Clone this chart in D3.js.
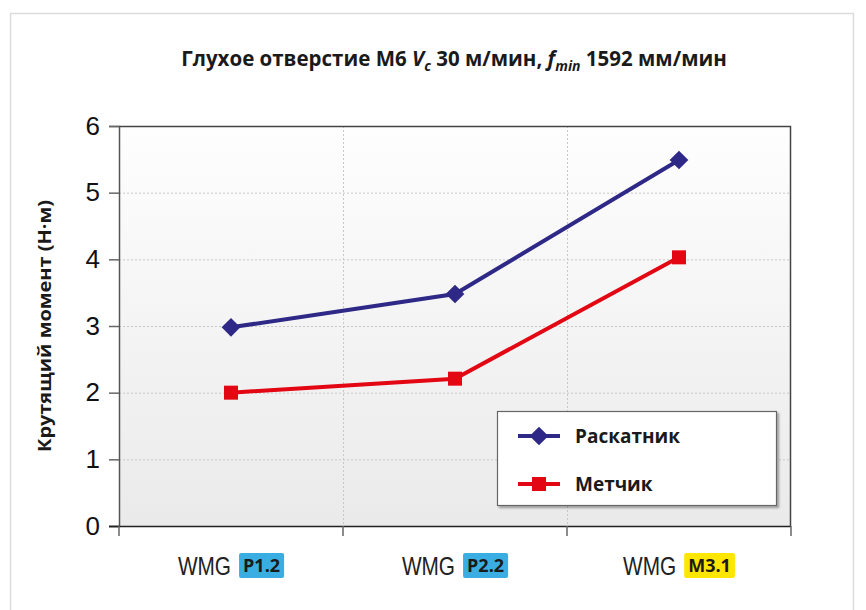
<!DOCTYPE html>
<html>
<head>
<meta charset="utf-8">
<script src="https://cdn.jsdelivr.net/npm/d3@7"></script>
<style>
  html, body { margin: 0; padding: 0; background: #fff; }
  svg { display: block; }
</style>
</head>
<body>
<svg id="chart" width="866" height="610"></svg>
<script>
// Torque per tool grade, blind hole M6
const categories = ["P1.2", "P2.2", "M3.1"];
const categoryPrefix = "WMG";
const badgeColors = ["#3aaee2", "#3aaee2", "#ffe600"];
const seriesNames = ["Раскатник", "Метчик"];
const rolling = [2.98, 3.48, 5.49];   // Раскатник
const tapping = [2.00, 2.21, 4.03];   // Метчик
const yTicks = [0, 1, 2, 3, 4, 5, 6];
const yLabel = "Крутящий момент (Н·м)";

const svg = d3.select("#chart");
const margin = { left: 119, top: 126, right: 866 - 791, bottom: 610 - 526 };
const W = 866 - margin.left - margin.right;
const H = 610 - margin.top - margin.bottom;

// outer frame
svg.append("path")
  .attr("d", "M10.5,620 V13.5 H853.5 V620")
  .attr("fill", "none").attr("stroke", "#dcdcdc").attr("stroke-width", 1.5);

const defs = svg.append("defs");
const grad = defs.append("linearGradient").attr("id", "bg").attr("x1", 0).attr("y1", 0).attr("x2", 0).attr("y2", 1);
grad.append("stop").attr("offset", "0%").attr("stop-color", "#fefefe");
grad.append("stop").attr("offset", "100%").attr("stop-color", "#eaeaea");

const shadow = defs.append("filter").attr("id", "shadow").attr("x", "-5%").attr("y", "-5%").attr("width", "115%").attr("height", "120%");
shadow.append("feDropShadow").attr("dx", 2).attr("dy", 2).attr("stdDeviation", 1.2).attr("flood-color", "#000").attr("flood-opacity", 0.35);

const g = svg.append("g").attr("transform", `translate(${margin.left},${margin.top})`);

const x = d3.scaleBand().domain(categories).range([0, W]).padding(0);
const y = d3.scaleLinear().domain([0, 6]).range([H, 0]);

g.append("rect").attr("width", W).attr("height", H).attr("fill", "url(#bg)");

// gridlines
g.append("g").selectAll("line").data(yTicks.filter(t => t > 0 && t < 6)).join("line")
  .attr("x1", 0).attr("x2", W).attr("y1", d => y(d) + 0.5).attr("y2", d => y(d) + 0.5)
  .attr("stroke", "#c8c8c8").attr("stroke-dasharray", "2,2");
g.append("g").selectAll("line").data(categories.slice(1)).join("line")
  .attr("x1", d => x(d) + 0.5).attr("x2", d => x(d) + 0.5).attr("y1", 0).attr("y2", H)
  .attr("stroke", "#c8c8c8").attr("stroke-dasharray", "2,2");

// plot frame: top and right
g.append("path").attr("d", `M0,0.5 H${W - 0.5} V${H}`).attr("fill", "none").attr("stroke", "#444").attr("stroke-width", 1.5);

// y axis
const yAxis = g.append("g").call(d3.axisLeft(y).tickValues(yTicks).tickFormat(d3.format("d")).tickSize(10).tickPadding(9));
yAxis.select(".domain").attr("stroke", "#555").attr("stroke-width", 1.5);
yAxis.selectAll(".tick line").attr("stroke", "#666").attr("stroke-width", 1.5);
yAxis.selectAll(".tick text")
  .attr("font-family", "'Liberation Sans', Arial, sans-serif").attr("font-size", 26).attr("fill", "#111");

// x axis with tick marks at band boundaries
const xAxis = g.append("g").attr("transform", `translate(0,${H})`);
xAxis.append("line").attr("x1", -10).attr("x2", W).attr("y1", 0.5).attr("y2", 0.5).attr("stroke", "#222").attr("stroke-width", 1.5);
const bounds = categories.map(c => x(c)).concat([W]);
xAxis.selectAll("line.tk").data(bounds).join("line").attr("class", "tk")
  .attr("x1", d => d).attr("x2", d => d).attr("y1", 0).attr("y2", 10)
  .attr("stroke", "#666").attr("stroke-width", 1.5);

// category labels: condensed "WMG" + coloured grade badge
const labels = xAxis.selectAll("g.lbl").data(categories).join("g").attr("class", "lbl");
labels.each(function (c, i) {
  const lg = d3.select(this);
  const squeeze = 0.8;
  const wrap = lg.append("g");
  const t1 = wrap.append("text").text(categoryPrefix)
    .attr("font-family", "'Liberation Sans', Arial, sans-serif")
    .attr("font-size", 26).attr("fill", "#222").attr("y", 49);
  const w1 = t1.node().getComputedTextLength() * squeeze;
  const badge = lg.append("rect").attr("rx", 2).attr("fill", badgeColors[i]);
  const t2 = lg.append("text").text(c)
    .attr("font-family", "'Open Sans', sans-serif").attr("font-weight", 700)
    .attr("font-size", 18).attr("fill", "#1a1a1a").attr("y", 46);
  const w2 = t2.node().getComputedTextLength();
  const gap = 8, pad = 4;
  const bw = w2 + pad * 2;
  const total = w1 + gap + bw;
  const start = x(c) + x.bandwidth() / 2 - total / 2;
  wrap.attr("transform", `translate(${start},0) scale(${squeeze},1)`);
  badge.attr("x", start + w1 + gap).attr("y", 27).attr("width", bw).attr("height", 25);
  t2.attr("x", start + w1 + gap + pad);
});

// series
const cx = c => x(c) + x.bandwidth() / 2;
const series = [
  { name: seriesNames[0], values: rolling, color: "#2e2886", shape: "diamond" },
  { name: seriesNames[1], values: tapping, color: "#e30613", shape: "square" }
];
const line = d3.line().x((d, i) => cx(categories[i])).y(d => y(d));
const diamond = d3.symbol().type(d3.symbolSquare).size(175);
function drawMarker(sel, shape, color) {
  if (shape === "diamond") {
    sel.append("path").attr("d", diamond()).attr("transform", "rotate(45)").attr("fill", color);
  } else {
    sel.append("rect").attr("x", -7).attr("y", -7).attr("width", 14).attr("height", 14).attr("fill", color);
  }
}
series.forEach(s => {
  g.append("path").datum(s.values).attr("d", line)
    .attr("fill", "none").attr("stroke", s.color).attr("stroke-width", 4);
  g.append("g").selectAll("g").data(s.values).join("g")
    .attr("transform", (d, i) => `translate(${cx(categories[i])},${y(d)})`)
    .each(function () { drawMarker(d3.select(this), s.shape, s.color); });
});

// legend
const lgd = svg.append("g").attr("transform", "translate(497,411)");
lgd.append("rect").attr("x", 0.5).attr("y", 0.5).attr("width", 279).attr("height", 94)
  .attr("fill", "#fff").attr("stroke", "#666").attr("stroke-width", 1.2).attr("filter", "url(#shadow)");
series.forEach((s, i) => {
  const row = lgd.append("g").attr("transform", `translate(0,${25 + i * 48})`);
  row.append("line").attr("x1", 21).attr("x2", 63).attr("stroke", s.color).attr("stroke-width", 4);
  const m = row.append("g").attr("transform", "translate(42,0)");
  drawMarker(m, s.shape, s.color);
  row.append("text").text(s.name).attr("x", 78).attr("y", 7)
    .attr("font-family", "'Open Sans', sans-serif").attr("font-weight", 700)
    .attr("font-size", 19).attr("fill", "#1a1a1a");
});

// y axis title
svg.append("text").text(yLabel)
  .attr("transform", "translate(51,326) rotate(-90)")
  .attr("text-anchor", "middle")
  .attr("font-family", "'Open Sans', sans-serif").attr("font-weight", 700)
  .attr("font-size", 18).attr("fill", "#1a1a1a")
  .attr("textLength", 252).attr("lengthAdjust", "spacingAndGlyphs");

// chart title with italic symbols and subscripts
const title = svg.append("text").attr("x", 454).attr("y", 66).attr("text-anchor", "middle")
  .attr("font-family", "'Open Sans', sans-serif").attr("font-weight", 700)
  .attr("font-size", 20.5).attr("fill", "#1a1a1a");
title.append("tspan").text("Глухое отверстие M6 ");
title.append("tspan").text("V").attr("font-style", "italic");
title.append("tspan").text("c").attr("font-style", "italic").attr("font-size", 14).attr("dy", 5);
title.append("tspan").text(" 30 м/мин, ").attr("dy", -5);
title.append("tspan").text("f").attr("font-style", "italic");
title.append("tspan").text("min").attr("font-style", "italic").attr("font-size", 14).attr("dy", 5);
title.append("tspan").text(" 1592 мм/мин").attr("dy", -5);
</script>
</body>
</html>
